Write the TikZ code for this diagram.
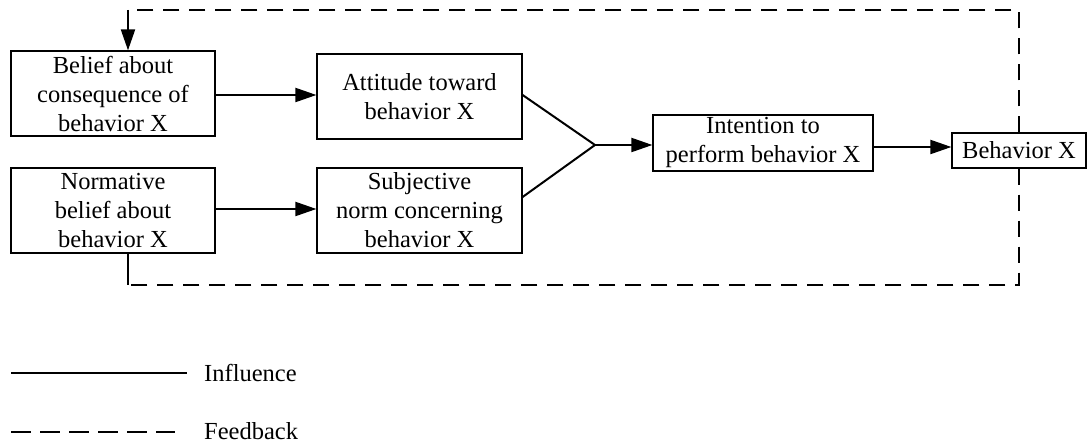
\documentclass[tikz,border=0pt]{standalone}
\usepackage{fontspec}
\setmainfont{Liberation Serif}
\usetikzlibrary{arrows.meta}
\begin{document}
\begin{tikzpicture}[x=1pt,y=-1pt,
  box/.style={draw,line width=1.2pt,fill=white,align=center,inner sep=0pt,
    font=\fontsize{24.5}{29}\selectfont},
  flow/.style={line width=2pt,-{Triangle[length=21pt,width=14pt]}},
  link/.style={line width=2pt},
  fb/.style={line width=2pt,dash pattern=on 16pt off 10pt},
  lbl/.style={anchor=west,inner sep=0pt,font=\fontsize{24.5}{29}\selectfont}]
\useasboundingbox (0,0) rectangle (1087,443);

\node[box,minimum width=204pt,minimum height=85pt] (b1) at (113,93.5) {Belief about\\consequence of\\behavior X};
\node[box,minimum width=204pt,minimum height=85pt] (b2) at (113,210.5) {Normative\\belief about\\behavior X};
\node[box,minimum width=205pt,minimum height=85pt] (b3) at (419.5,96.5) {Attitude toward\\behavior X};
\node[box,minimum width=205pt,minimum height=85pt] (b4) at (419.5,210.5) {Subjective\\norm concerning\\behavior X};
\node[box,minimum width=220pt,minimum height=56pt] (int) at (763,143) {Intention to\\perform behavior X};
\node[box,minimum width=134pt,minimum height=35pt] (beh) at (1019,150.5) {Behavior X};

\coordinate (m) at (595,145);

\draw[flow] ([yshift=-1.5pt]b1.east) -- ([yshift=-1.5pt]b1.east -| b3.west);
\draw[flow] ([yshift=1.5pt]b2.east) -- ([yshift=1.5pt]b2.east -| b4.west);
\draw[link] ([yshift=1.5pt]b3.east) -- (m);
\draw[link] ([yshift=13.5pt]b4.east) -- (m);
\draw[flow] (m) -- (m -| int.west);
\draw[flow] ([yshift=-4pt]int.east) -- ([yshift=-4pt]int.east -| beh.west);

\coordinate (tl) at (128,10);
\coordinate (tr) at (1019,10);
\coordinate (br) at (1019,285);
\coordinate (bl) at (128,285);
\draw[fb] (beh.north) -- (tr) -- (tl);
\draw[fb] (beh.south) -- (br) -- (bl);
\draw[flow] (tl) -- (tl |- b1.north);
\draw[link] (b2.south -| bl) -- (bl);

\coordinate (i1) at (11,373);
\coordinate (i2) at (187,373);
\draw[link] (i1) -- (i2);
\node[lbl] (inf) at (204,373) {Influence};
\coordinate (f1) at (11,432);
\coordinate (f2) at (175,432);
\draw[line width=2pt,dash pattern=on 20pt off 9pt] (f1) -- (f2);
\node[lbl] (fbk) at (204,431.5) {Feedback};
\end{tikzpicture}
\end{document}
